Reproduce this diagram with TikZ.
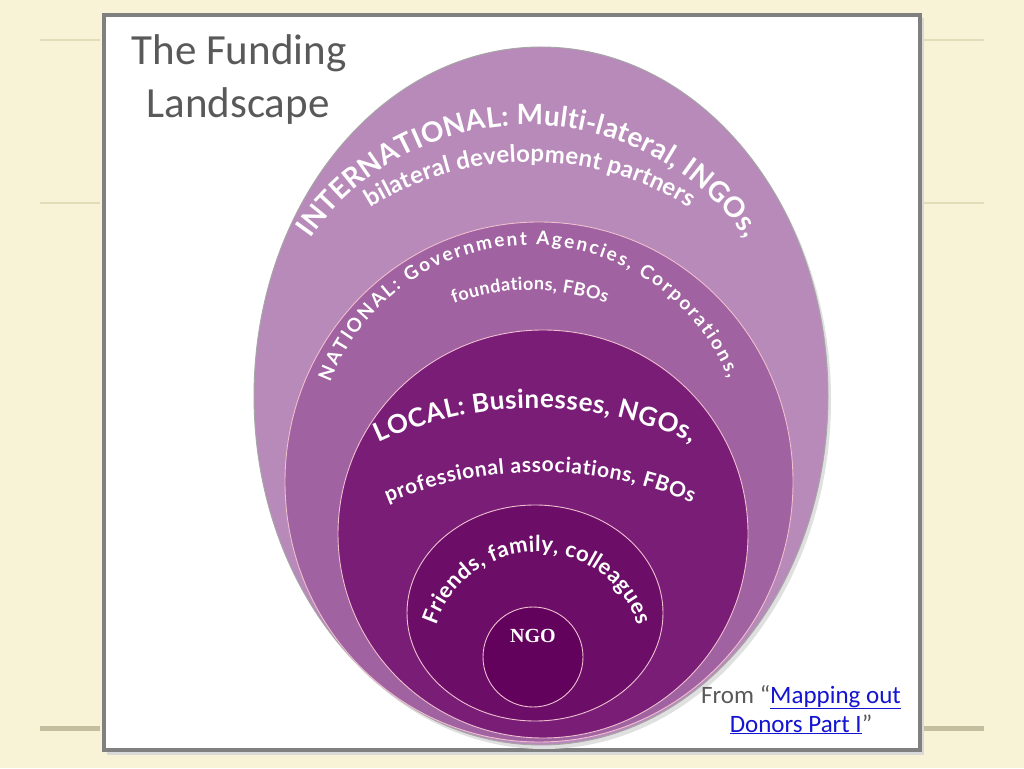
\documentclass[tikz,border=0pt]{standalone}
\usepackage{fontspec}
\usepackage{xcolor}
\usepackage{tikz}
\usetikzlibrary{
	decorations.text,
	positioning,
	calc
}
\newfontfamily\slidefont{Carlito}
\newfontfamily\arcfont{Lato}
\newfontfamily\ngofont{Liberation Serif}
\definecolor{PaperCream}{RGB}{248,242,214}
\definecolor{RuleTan}{RGB}{228,221,186}
\definecolor{RuleDark}{RGB}{196,190,158}
\definecolor{FrameGray}{RGB}{128,128,128}
\definecolor{TitleGray}{RGB}{89,89,89}
\definecolor{LinkBlue}{RGB}{20,20,210}
\definecolor{IntlPurple}{RGB}{184,138,186}
\definecolor{NatPurple}{RGB}{160,98,160}
\definecolor{LocPurple}{RGB}{121,29,119}
\definecolor{FamPurple}{RGB}{108,14,104}
\definecolor{NgoPurple}{RGB}{98,2,92}
\newcommand{\intAfont}{\arcfont\bfseries\fontsize{28}{28}\selectfont}
\newcommand{\intBfont}{\arcfont\bfseries\fontsize{24}{24}\selectfont}
\newcommand{\natAfont}{\arcfont\bfseries\fontsize{19}{19}\selectfont}
\newcommand{\natBfont}{\arcfont\bfseries\fontsize{18}{18}\selectfont}
\newcommand{\locAfont}{\arcfont\bfseries\fontsize{26}{26}\selectfont}
\newcommand{\locBfont}{\arcfont\bfseries\fontsize{21}{21}\selectfont}
\newcommand{\famfont}{\arcfont\bfseries\fontsize{22}{22}\selectfont}
\tikzset{
	arctext/.style={decorate, decoration={text along path, text align={fit to path}, text color=white, text={#1}}},
	ring/.style={draw=white!75!purple, line width=0.9pt},
	rulethin/.style={RuleTan, line width=1.5pt},
	rulethick/.style={RuleDark, line width=5pt},
	headline/.style={anchor=base, text=TitleGray, font=\slidefont\fontsize{43}{43}\selectfont},
	credit/.style={anchor=base, text=TitleGray, font=\slidefont\fontsize{25}{25}\selectfont}
}

\begin{document}
\begin{tikzpicture}[x=1pt, y=1pt]
		\useasboundingbox (0,0) rectangle (1024,768);
		\fill[PaperCream] (0,0) rectangle (1024,768);
		\draw[rulethin] (40,728) -- (100,728);
		\draw[rulethin] (924,728) -- (984,728);
		\draw[rulethin] (40,565) -- (100,565);
		\draw[rulethin] (924,565) -- (984,565);
		\draw[rulethick] (40,40) -- (100,40);
		\draw[rulethick] (924,40) -- (984,40);
		\fill[black!15] (107,13) rectangle (924,750);
		\draw[FrameGray, fill=white, line width=4pt] (104,18) rectangle (920,753);
		\coordinate (intl) at (541,372);
		\coordinate (nat) at (539,286);
		\coordinate (loc) at (543,234);
		\coordinate (fam) at (535,155);
		\coordinate (ngo) at (533,111);
		\fill[black!12] ($(intl)+(3,-4)$) ellipse (287 and 349);
		\draw[ring, draw=gray!70, fill=IntlPurple] (intl) ellipse (287 and 349);
		\draw[ring, fill=NatPurple] (nat) ellipse (254 and 260);
		\draw[ring, fill=LocPurple] (loc) ellipse (205 and 204);
		\draw[ring, fill=FamPurple] (fam) ellipse (128 and 108);
		\draw[ring, fill=NgoPurple] (ngo) circle (50);
		\coordinate (intA) at (528,377);
		\coordinate (intB) at (530,305);
		\coordinate (natA) at (530,309);
		\coordinate (natB) at (530,255);
		\coordinate (locA) at (535,-10);
		\coordinate (locB) at (540,-93);
		\coordinate (famA) at (537,110);
		\path[arctext={|\intAfont|INTERNATIONAL: Multi-lateral, INGOs,}] (intA) ++(145:266) arc[start angle=145, end angle=35, radius=266];
		\path[arctext={|\intBfont|bilateral development partners}] (intB) ++(122:301) arc[start angle=122, end angle=58, radius=301];
		\path[arctext={|\natAfont|NATIONAL: Government Agencies, Corporations,}] (natA) ++(159:214) arc[start angle=159, end angle=22, radius=214];
		\path[arctext={|\natBfont|foundations, FBOs}] (natB) ++(110:223) arc[start angle=110, end angle=70, radius=223];
		\path[arctext={|\locAfont|LOCAL: Businesses, NGOs,}] (locA) ++(115:370) arc[start angle=115, end angle=65, radius=370];
		\path[arctext={|\locBfont|professional associations, FBOs}] (locB) ++(113:389) arc[start angle=113, end angle=67, radius=389];
		\path[arctext={|\famfont|Friends, family, colleagues}] (famA) ++(162:106) arc[start angle=162, end angle=18, radius=106];
		\node[text=white, font=\ngofont\bfseries\fontsize{20}{20}\selectfont] (ngolabel) at (533,132) {NGO};
		\node[headline] (titleA) at (239,703) {The Funding};
		\node[headline] (titleB) at (238,650) {Landscape};
		\node[credit] (creditA) at (801,65) {From “\textcolor{LinkBlue}{\underline{Mapping out}}};
		\node[credit] (creditB) at (801,36) {\textcolor{LinkBlue}{\underline{Donors Part I}}”};
	\end{tikzpicture}
\end{document}
